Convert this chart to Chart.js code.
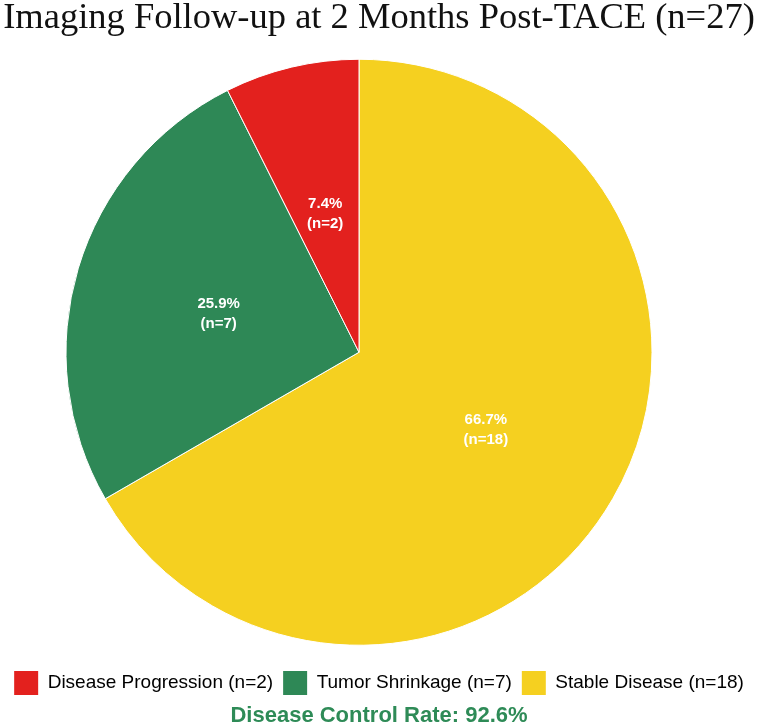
<!DOCTYPE html>
<html>
<head>
<meta charset="utf-8">
<script src="https://cdn.jsdelivr.net/npm/chart.js@4.4.0/dist/chart.umd.min.js"></script>
<style>
  html, body { margin: 0; padding: 0; background: #ffffff; }
  #wrap { width: 758px; height: 727px; }
</style>
</head>
<body>
<div id="wrap"><canvas id="tace-pie"></canvas></div>
<script>
// categories in legend order
const categories = ['Disease Progression', 'Tumor Shrinkage', 'Stable Disease'];
const counts = [2, 7, 18];
const sliceColors = ['#E3211E', '#2E8856', '#F5D020'];
const totalPatients = 27;
const controlRate = '92.6%';

// pie is drawn counter-clockwise in legend order, so feed it reversed
const drawCats = categories.slice().reverse();
const drawCounts = counts.slice().reverse();
const drawColors = sliceColors.slice().reverse();

// the pie sits a bit left of the page centre in the original
const PIE_SHIFT_X = -20;

// shift the pie, then write the white labels in each slice
const sliceLabels = {
  id: 'sliceLabels',
  beforeDatasetsDraw(chart) {
    chart.ctx.save();
    chart.ctx.translate(PIE_SHIFT_X, 0);
  },
  afterDatasetsDraw(chart) {
    const ctx = chart.ctx;
    const meta = chart.getDatasetMeta(0);
    const data = chart.data.datasets[0].data;
    ctx.fillStyle = '#ffffff';
    ctx.font = "bold 15px 'Liberation Sans', Arial, sans-serif";
    ctx.textAlign = 'center';
    ctx.textBaseline = 'middle';
    meta.data.forEach((arc, i) => {
      const pos = arc.tooltipPosition();
      const pct = (data[i] / totalPatients * 100).toFixed(1) + '%';
      ctx.fillText(pct, pos.x, pos.y - 6);
      ctx.fillText('(n=' + data[i] + ')', pos.x, pos.y + 14);
    });
    ctx.restore();
  }
};

const ctx = document.getElementById('tace-pie').getContext('2d');
new Chart(ctx, {
  type: 'pie',
  data: {
    labels: drawCats,
    datasets: [{
      data: drawCounts,
      backgroundColor: drawColors,
      borderColor: '#ffffff',
      borderWidth: 1,
      radius: 293,
      clip: false
    }]
  },
  options: {
    responsive: true,
    maintainAspectRatio: false,
    animation: false,
    layout: { padding: 0 },
    plugins: {
      title: {
        display: true,
        text: 'Imaging Follow-up at 2 Months Post-TACE (n=' + totalPatients + ')',
        color: '#111111',
        font: { family: "'Liberation Serif', 'Times New Roman', serif", size: 36.5, weight: 'normal', lineHeight: 1 },
        padding: { top: 0, bottom: 7 }
      },
      legend: {
        position: 'bottom',
        reverse: true,
        labels: {
          color: '#222222',
          font: { family: "'Liberation Sans', Arial, sans-serif", size: 19 },
          boxWidth: 24,
          boxHeight: 24,
          padding: 10,
          generateLabels(chart) {
            const ds = chart.data.datasets[0];
            return chart.data.labels.map((lab, i) => ({
              text: lab + ' (n=' + ds.data[i] + ')',
              fillStyle: ds.backgroundColor[i],
              strokeStyle: ds.backgroundColor[i],
              lineWidth: 0,
              hidden: false,
              index: i
            }));
          }
        }
      },
      subtitle: {
        display: true,
        position: 'bottom',
        text: 'Disease Control Rate: ' + controlRate,
        color: '#2E8B57',
        font: { family: "'Liberation Sans', Arial, sans-serif", size: 22, weight: 'bold', lineHeight: 1 },
        padding: 0
      },
      tooltip: { enabled: false }
    }
  },
  plugins: [sliceLabels]
});
</script>
</body>
</html>
